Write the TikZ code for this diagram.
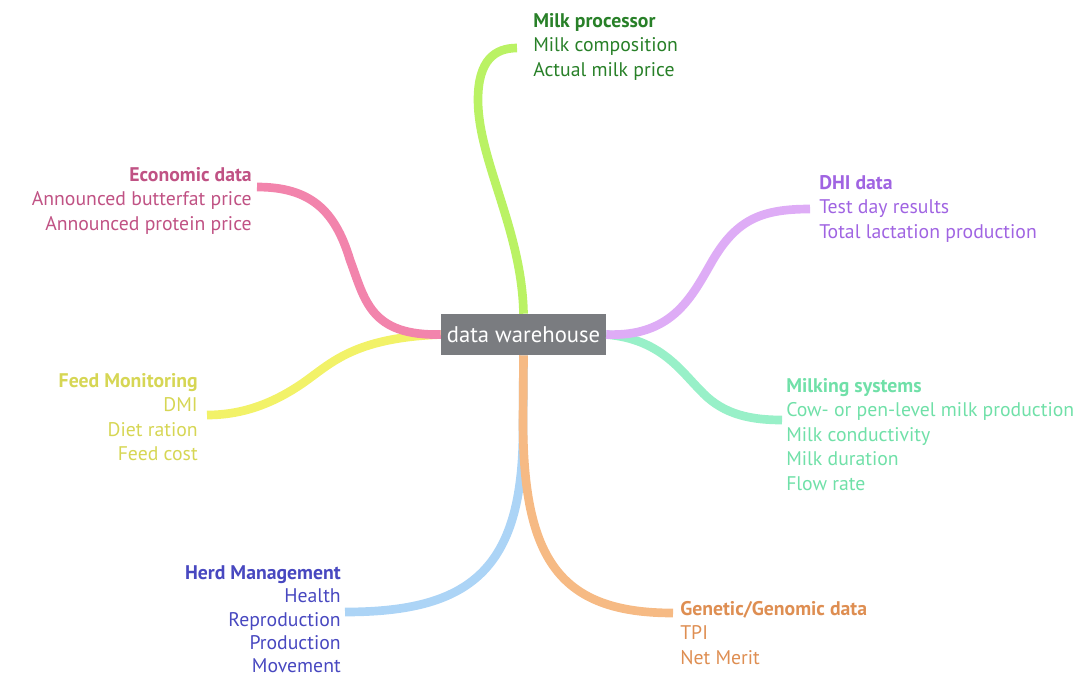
\documentclass[tikz,border=0pt]{standalone}
\usepackage{fontspec}
\setmainfont{PT Sans}
\usetikzlibrary{positioning}

\definecolor{boxgray}{RGB}{122,124,128}
\definecolor{limeb}{RGB}{186,242,100}
\definecolor{limet}{RGB}{40,128,40}
\definecolor{pinkb}{RGB}{242,132,172}
\definecolor{pinkt}{RGB}{192,82,132}
\definecolor{yellowb}{RGB}{242,242,104}
\definecolor{yellowt}{RGB}{214,214,84}
\definecolor{purpleb}{RGB}{222,172,246}
\definecolor{purplet}{RGB}{160,100,226}
\definecolor{mintb}{RGB}{152,240,200}
\definecolor{mintt}{RGB}{112,224,168}
\definecolor{blueb}{RGB}{172,212,246}
\definecolor{bluet}{RGB}{72,72,192}
\definecolor{orangeb}{RGB}{246,186,132}
\definecolor{oranget}{RGB}{222,142,82}

\begin{document}
\begin{tikzpicture}[x=0.75pt, y=-0.75pt,
    branch/.style={line width=6.5pt},
    info/.style={inner sep=0pt, font=\fontsize{14.8}{18.4}\selectfont}]
    \useasboundingbox (0,0) rectangle (1077,679);
    % Centre box
    \node (dw) at (523.5,334.5) [fill=boxgray, text=white, minimum width=123.75pt,
        minimum height=30.75pt, inner sep=0pt, font=\fontsize{17}{18}\selectfont] {data warehouse};
    % Source labels
    \node (milk) at (533,13) [info, anchor=north west, align=left, text=limet]
        {\textbf{Milk processor}\\Milk composition\\Actual milk price};
    \node (econ) at (252,167) [info, anchor=north east, align=right, text=pinkt]
        {\textbf{Economic data}\\Announced butterfat price\\Announced protein price};
    \node (dhi) at (819,175) [info, anchor=north west, align=left, text=purplet]
        {\textbf{DHI data}\\Test day results\\Total lactation production};
    \node (milking) at (786,378) [info, anchor=north west, align=left, text=mintt]
        {\textbf{Milking systems}\\Cow- or pen-level milk production\\Milk conductivity\\Milk duration\\Flow rate};
    \node (feed) at (198,373) [info, anchor=north east, align=right, text=yellowt]
        {\textbf{Feed Monitoring}\\DMI\\Diet ration\\Feed cost};
    \node (herd) at (341,565) [info, anchor=north east, align=right, text=bluet,
        font=\fontsize{14.8}{17.6}\selectfont]
        {\textbf{Herd Management}\\Health\\Reproduction\\Production\\Movement};
    \node (gen) at (680,601) [info, anchor=north west, align=left, text=oranget]
        {\textbf{Genetic/Genomic data}\\TPI\\Net Merit};
    % Branch ends
    \coordinate (milkEnd) at (517,48);
    \coordinate (econEnd) at (257,187);
    \coordinate (feedEnd) at (207,415);
    \coordinate (dhiEnd) at (810,209);
    \coordinate (milkingEnd) at (782,420);
    \coordinate (herdEnd) at (345,612);
    \coordinate (genEnd) at (673,613);
    % Branches
    \draw [branch, limeb] (dw.north) .. controls (522,230) and (478,160) .. (478,100)
        .. controls (478,60) and (495,48) .. (milkEnd);
    \draw [branch, yellowb] (dw.west) .. controls (350,338) and (330,365) .. (300,385)
        .. controls (270,405) and (240,415) .. (feedEnd);
    \draw [branch, pinkb] (dw.west) .. controls (370,336) and (365,300) .. (350,260)
        .. controls (335,210) and (310,187) .. (econEnd);
    \draw [branch, mintb] (dw.east) .. controls (660,339) and (680,370) .. (700,390)
        .. controls (720,412) and (745,420) .. (milkingEnd);
    \draw [branch, purpleb] (dw.east) .. controls (670,337) and (690,300) .. (710,265)
        .. controls (735,220) and (760,209) .. (dhiEnd);
    \draw [branch, blueb] (dw.south) -- (523,430) .. controls (523,570) and (470,612) .. (herdEnd);
    \draw [branch, orangeb] (dw.south) -- (523,420) .. controls (523,560) and (560,613) .. (genEnd);
\end{tikzpicture}
\end{document}
